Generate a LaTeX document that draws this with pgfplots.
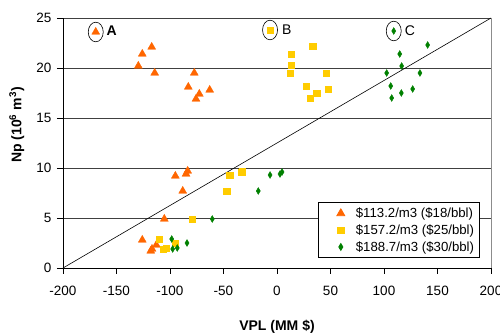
\documentclass[border=0pt]{standalone}
\usepackage{pgfplots}
\pgfplotsset{compat=1.18}
\usepackage{fontspec}
\setmainfont{Liberation Sans}
\definecolor{cA}{HTML}{FF6600}
\definecolor{cB}{HTML}{FFCC00}
\definecolor{cC}{HTML}{008000}
\begin{document}
\begin{tikzpicture}
\path[use as bounding box] (-63pt,-68pt) rectangle (437pt,268pt);
\begin{axis}[
  at={(0,0)}, anchor=south west,
  scale only axis, width=428pt, height=250pt,
  xmin=-200, xmax=200, ymin=0, ymax=25,
  xtick={-200,-150,...,200}, ytick={0,5,...,25},
  axis x line*=bottom, axis y line*=left,
  axis line style={black, line width=0.8pt, -},
  tick align=outside, major tick length=6pt,
  tick style={black, line width=0.8pt},
  ymajorgrids, major grid style={black!75, line width=0.8pt},
  /pgf/number format/assume math mode=true,
  ticklabel style={font=\fontsize{13.5}{16}\selectfont},
  xticklabel style={yshift=-9pt},
  yticklabel style={xshift=-2pt},
  xlabel={\textbf{VPL (MM \$)}},
  ylabel={\textbf{Np (10\textsuperscript{6} m\textsuperscript{3})}},
  label style={font=\fontsize{14}{17}\selectfont},
  xlabel style={at={(axis description cs:0.5,-0.236)}, anchor=center},
  ylabel style={at={(axis description cs:-0.108,0.572)}, anchor=center, rotate=0},
  clip=false,
  legend style={at={(rel axis cs:0.973,0.04)}, anchor=south east,
    draw=black, line width=0.8pt, fill=white, font=\fontsize{13.2}{16}\selectfont,
    legend cell align=left, row sep=1.5pt, column sep=5pt, inner xsep=3pt, inner ysep=3pt},
  legend image code/.code={\path (0cm,0cm) (0.95cm,0cm); \draw[#1] plot coordinates {(0.68cm,0cm)};},
]
\addplot[black, line width=0.6pt, forget plot] coordinates {(-200,0) (200,25)};
\addplot[only marks, mark=triangle*, mark size=4.6pt, color=cA] coordinates {
(-117.1,22.1)(-125.9,21.4)(-129.6,20.2)(-114.3,19.5)(-77.3,19.5)(-82.9,18.1)
(-62.9,17.8)(-72.6,17.4)(-75.7,16.9)(-95.0,9.2)(-85.0,9.4)(-83.5,9.7)
(-88.1,7.7)(-105.3,4.9)(-125.9,2.8)(-112.8,2.3)(-116.8,1.9)(-118.0,1.7)};
\addlegendentry{\$113.2/m3 (\$18/bbl)}
\addplot[only marks, mark=square*, mark size=3.2pt, color=cB] coordinates {
(33.4,22.2)(13.4,21.4)(13.4,20.3)(12.5,19.5)(45.8,19.5)(27.1,18.2)(47.7,17.9)
(37.1,17.5)(30.8,17.0)(-44.2,9.3)(-33.0,9.6)(-32.5,9.7)(-47.0,7.7)(-79.4,4.9)
(-110.3,2.9)(-95.3,2.5)(-103.5,2.0)(-106.5,1.9)};
\addlegendentry{\$157.2/m3 (\$25/bbl)}
\addplot[only marks, mark=diamond*, mark size=3.4pt, mark options={xscale=0.8}, color=cC] coordinates {
(140.8,22.3)(114.7,21.4)(116.5,20.2)(102.5,19.5)(133.6,19.5)(106.3,18.2)
(126.8,17.9)(116.2,17.5)(107.2,17.0)(-6.5,9.3)(2.8,9.4)(4.7,9.6)(-17.5,7.7)
(-60.5,4.9)(-98.4,2.9)(-84.1,2.5)(-93.2,2.0)(-97.5,1.9)};
\addlegendentry{\$188.7/m3 (\$30/bbl)}
% group labels
\addplot[only marks, mark=triangle*, mark size=4.6pt, color=cA, forget plot] coordinates {(-169.4,23.6)};
\addplot[only marks, mark=square*, mark size=3.2pt, color=cB, forget plot] coordinates {(-6.5,23.8)};
\addplot[only marks, mark=diamond*, mark size=3.4pt, mark options={xscale=0.8}, color=cC, forget plot] coordinates {(109.1,23.7)};
\draw[black, line width=0.6pt] (axis cs:-169.4,23.6) ellipse [x radius=7.5pt, y radius=9.8pt];
\draw[black, line width=0.6pt] (axis cs:-6.5,23.8) ellipse [x radius=7.5pt, y radius=9.8pt];
\draw[black, line width=0.6pt] (axis cs:109.1,23.7) ellipse [x radius=7.5pt, y radius=9.8pt];
\node[font=\fontsize{14}{16}\selectfont\bfseries] at (axis cs:-154.5,23.7) {A};
\node[font=\fontsize{14}{16}\selectfont] at (axis cs:9.1,23.8) {B};
\node[font=\fontsize{14}{16}\selectfont] at (axis cs:124.3,23.7) {C};
\draw[black!45, line width=0.8pt] (axis cs:200,0) -- (axis cs:200,25);
\end{axis}
\end{tikzpicture}
\end{document}
